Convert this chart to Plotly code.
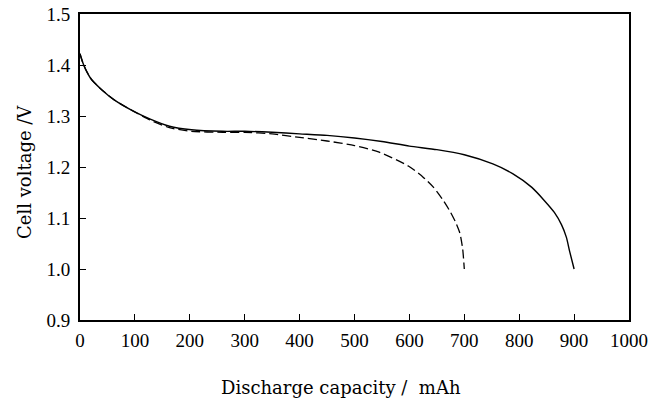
import plotly.graph_objects as go

# Solid curve (longer discharge)
solid_cap = [0, 4, 10, 20, 37, 63, 98, 128, 163, 203, 260, 300, 350, 400, 450, 500, 550, 600, 650, 700, 752, 788, 823, 846, 864, 877, 886, 892, 900]
solid_v = [1.422, 1.408, 1.392, 1.373, 1.354, 1.331, 1.309, 1.294, 1.28, 1.273, 1.27, 1.27, 1.268, 1.265, 1.262, 1.257, 1.25, 1.241, 1.234, 1.224, 1.206, 1.187, 1.16, 1.134, 1.111, 1.087, 1.062, 1.034, 1.0]

# Dashed curve (shorter discharge)
dash_cap = [0, 4, 10, 20, 37, 63, 98, 128, 163, 203, 260, 300, 350, 400, 450, 500, 545, 598, 624, 644, 662, 674, 684, 692, 697, 700]
dash_v = [1.422, 1.408, 1.392, 1.373, 1.354, 1.331, 1.309, 1.292, 1.277, 1.27, 1.268, 1.268, 1.265, 1.258, 1.251, 1.242, 1.229, 1.202, 1.181, 1.16, 1.134, 1.113, 1.092, 1.07, 1.04, 1.0]

x_ticks = [0, 100, 200, 300, 400, 500, 600, 700, 800, 900, 1000]
y_ticks = [0.9, 1.0, 1.1, 1.2, 1.3, 1.4, 1.5]
y_labels = ["0.9", "1.0", "1.1", "1.2", "1.3", "1.4", "1.5"]

tick_font = "Liberation Serif, Times New Roman, serif"
title_font = "DejaVu Serif, serif"

L, R, T, B = 80, 22, 14, 79
W, H = 651, 399
pw = W - L - R
ph = H - T - B

fig = go.Figure()
fig.add_trace(go.Scatter(x=solid_cap, y=solid_v, mode="lines",
                         line=dict(color="black", width=1.4, shape="spline", smoothing=0.6), showlegend=False))
fig.add_trace(go.Scatter(x=dash_cap, y=dash_v, mode="lines",
                         line=dict(color="black", width=1.3, dash="9px,4px", shape="spline", smoothing=0.6), showlegend=False))

fig.update_layout(
    width=W, height=H,
    margin=dict(l=L, r=R, t=T, b=B, autoexpand=False),
    paper_bgcolor="white", plot_bgcolor="white",
    font=dict(family=tick_font, size=19, color="black"),
    xaxis=dict(range=[0, 1000], tickvals=x_ticks, ticks="inside", ticklen=6, tickwidth=1,
               tickcolor="black", showline=True, linecolor="black", linewidth=2, mirror=True,
               showgrid=False, zeroline=False, tickfont=dict(size=19, family=tick_font),
               ticklabelstandoff=2, automargin=False),
    yaxis=dict(range=[0.9, 1.5], tickvals=y_ticks, ticktext=y_labels, ticks="inside", ticklen=6, tickwidth=1,
               tickcolor="black", showline=True, linecolor="black", linewidth=2, mirror=True,
               showgrid=False, zeroline=False, tickfont=dict(size=19, family=tick_font),
               ticklabelstandoff=4, automargin=False),
    annotations=[
        dict(text="Discharge capacity /  mAh", x=(341 - L) / pw, y=(H - B - 387) / ph,
             xref="paper", yref="paper", xanchor="center", yanchor="middle", showarrow=False,
             font=dict(size=18, family=title_font)),
        dict(text="Cell voltage /V", x=(25 - L) / pw, y=(H - B - 172) / ph,
             xref="paper", yref="paper", xanchor="center", yanchor="middle", showarrow=False,
             textangle=-90, font=dict(size=18, family=title_font)),
    ],
)

fig.write_html("out.html", config={"displayModeBar": False},
               post_script="document.body.style.margin='0';document.body.style.overflow='hidden';")
